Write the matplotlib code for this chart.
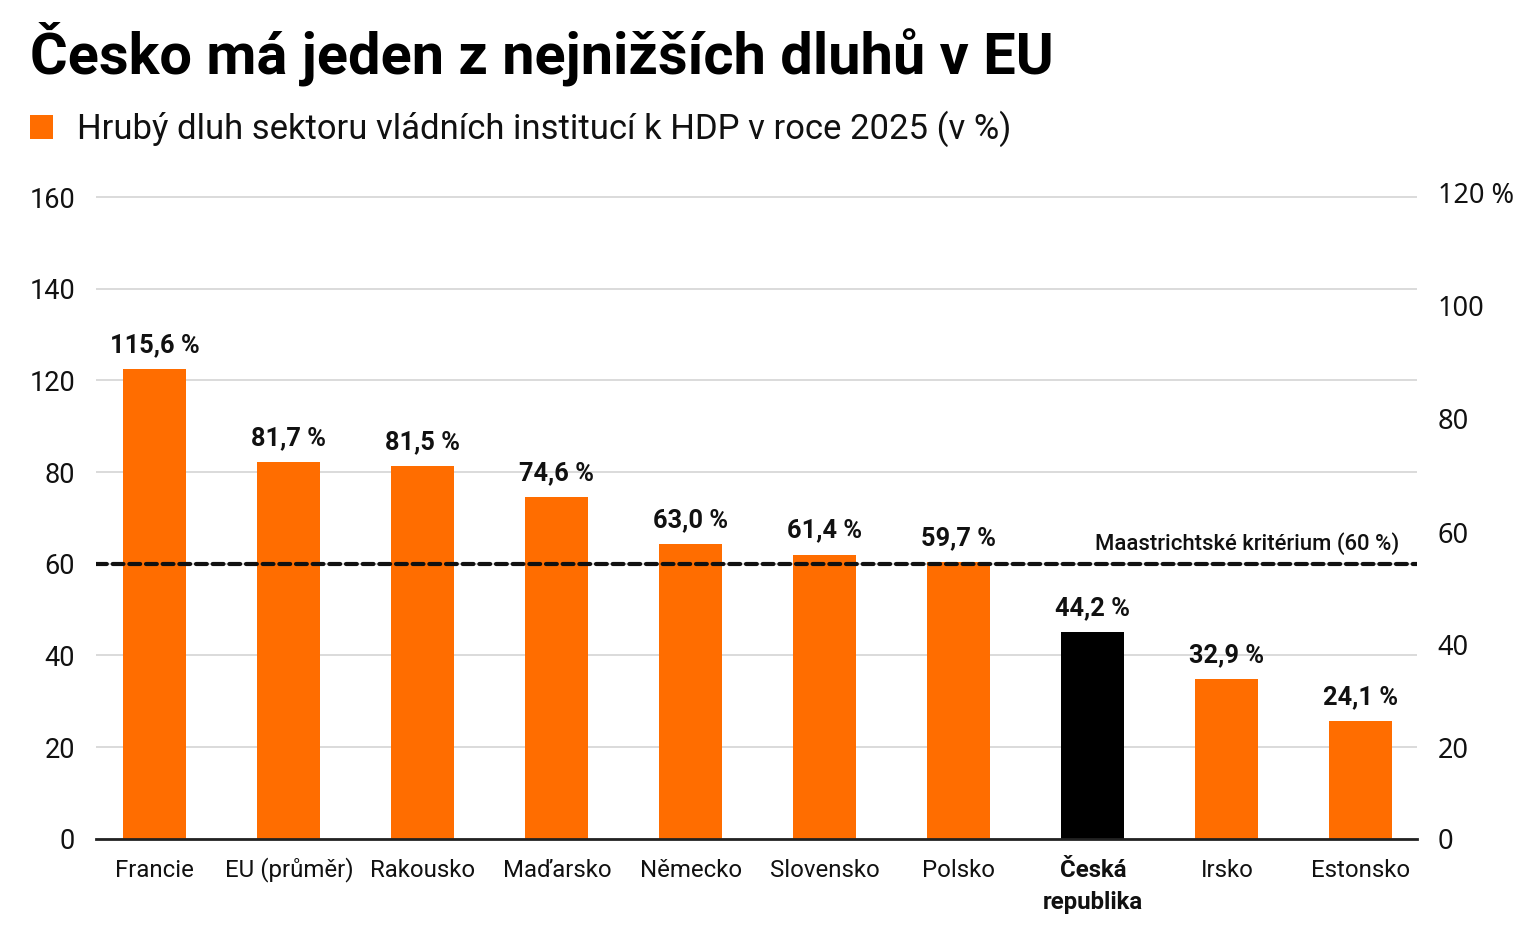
import matplotlib.pyplot as plt
from matplotlib.patches import Patch
from matplotlib.transforms import ScaledTranslation

plt.rcParams["font.family"] = ["Roboto", "DejaVu Sans"]

# ---------------------------------------------------------------------------
# Data
# ---------------------------------------------------------------------------

zeme = ["Francie", "EU (průměr)", "Rakousko", "Maďarsko", "Německo",
        "Slovensko", "Polsko", "Česká\nrepublika", "Irsko", "Estonsko"]
# hodnoty v popiscich nad sloupci (v %)
dluh = [115.6, 81.7, 81.5, 74.6, 63.0, 61.4, 59.7, 44.2, 32.9, 24.1]
# vysky sloupcu tak, jak jsou nakreslene vuci leve ose
vyska = [102.4, 82.1, 81.3, 74.6, 64.3, 62.0, 60.4, 45.0, 34.9, 25.6]
zvyraznena = "Česká\nrepublika"

leve_popisky = ["0", "20", "40", "60", "80", "120", "140", "160"]
prave_popisky = ["0", "20", "40", "60", "80", "100", "120 %"]
prave_pozice = [0, 19.9, 42.4, 66.8, 91.6, 116.4, 140.9]

kriterium = 60
text_kriteria = "Maastrichtské kritérium (60 %)"

titulek = "Česko má jeden z nejnižších dluhů v EU"
legenda = "Hrubý dluh sektoru vládních institucí k HDP v roce 2025 (v %)"

ORANZOVA = "#ff6d00"
CERNA = "#000000"

# ---------------------------------------------------------------------------
# Graf
# ---------------------------------------------------------------------------

fig = plt.figure(figsize=(15.36, 9.31), dpi=100)
fig.patch.set_facecolor("white")
ax = fig.add_axes([0.0625, 0.0991, 0.8600, 0.6942])

barvy = [CERNA if z == zvyraznena else ORANZOVA for z in zeme]
x = list(range(len(zeme)))
ax.bar(x, vyska, width=0.47, color=barvy, zorder=2)

for xi, v, h in zip(x, dluh, vyska):
    ax.annotate(f"{v:.1f}".replace(".", ",") + " %", (xi, h),
                xytext=(0, 12.2), textcoords="offset points",
                ha="center", va="baseline", fontsize=18.3,
                fontweight="bold", color="#111111")

ax.axhline(kriterium, color="#111111", lw=3.0, ls=(0, (2.6, 1.4)),
           dash_capstyle="round", zorder=3)
ax.annotate(text_kriteria, (0.9864, kriterium),
            xycoords=("axes fraction", "data"),
            xytext=(0, 9.9), textcoords="offset points",
            ha="right", va="baseline", fontsize=15.9,
            fontweight="medium", color="#111111")

ax.set_xlim(-0.439, 9.419)
ax.set_ylim(0, 141)
ax.set_yticks(range(0, 141, 20))
ax.set_yticklabels(leve_popisky)
ax.grid(axis="y", color="#d4d4d4", lw=1.2, zorder=0)
ax.tick_params(axis="y", length=0, pad=15, labelsize=19.5, labelcolor="#111111")

# popisky zarovnane na uctaric (pismena s hackem/krouzkem by je jinak posunula)
ax.set_xticks(x)
ax.set_xticklabels(zeme, linespacing=1.48)
ax.tick_params(axis="x", length=0, pad=27.4, labelsize=17.3, labelcolor="#111111")
for lbl in ax.get_xticklabels():
    lbl.set_verticalalignment("baseline")
    if lbl.get_text() == zvyraznena:
        lbl.set_fontweight("bold")
        # baseline u dvou radku plati pro posledni radek -> posun o jeden radek
        lbl.set_transform(lbl.get_transform()
                          + ScaledTranslation(0, -0.32, fig.dpi_scale_trans))

for s in ["top", "right", "left"]:
    ax.spines[s].set_visible(False)
ax.spines["bottom"].set_color("#222222")
ax.spines["bottom"].set_linewidth(2.0)
ax.spines["bottom"].set_zorder(4)

ax2 = ax.twinx()
ax2.set_ylim(ax.get_ylim())
ax2.set_yticks(prave_pozice)
ax2.set_yticklabels(prave_popisky, family=["Noto Sans", "DejaVu Sans"])
ax2.tick_params(axis="y", length=0, pad=15, labelsize=19.5, labelcolor="#111111")
for s in ax2.spines.values():
    s.set_visible(False)

fig.text(30 / 1536, 1 - 73 / 931, titulek, ha="left", va="baseline",
         fontsize=41.6, fontweight="bold", color="#000000")

fig.legend(handles=[Patch(facecolor=ORANZOVA, label=legenda)],
           loc="upper left", bbox_to_anchor=(30 / 1536, 1 - 111 / 931),
           frameon=False, fontsize=24.9, borderpad=0, borderaxespad=0,
           handlelength=0.67, handleheight=0.67, handletextpad=0.69,
           labelcolor="#111111")

fig.savefig("out.png", dpi=100, facecolor="white")
